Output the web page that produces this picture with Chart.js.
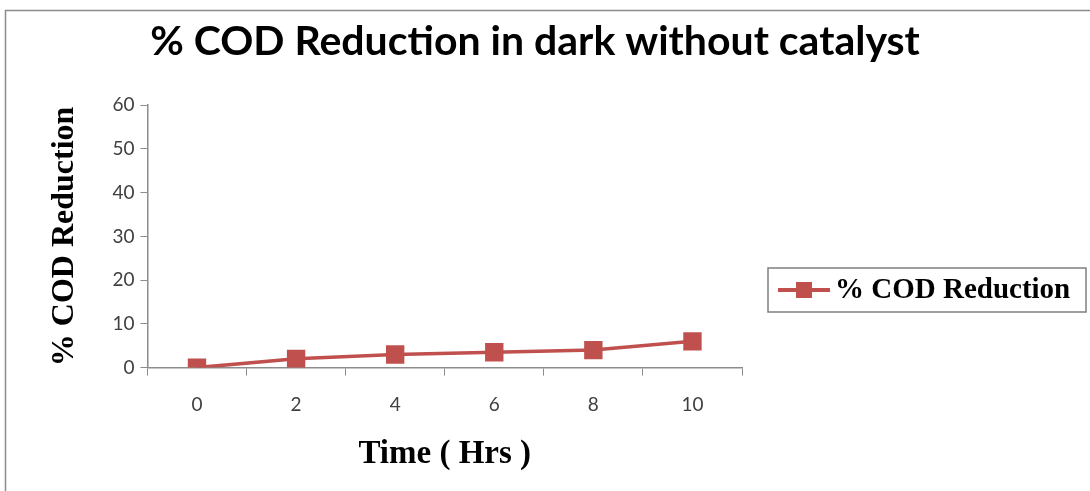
<!DOCTYPE html>
<html>
<head>
<meta charset="utf-8">
<script src="https://cdn.jsdelivr.net/npm/chart.js@4/dist/chart.umd.min.js"></script>
<style>
  html, body { margin: 0; padding: 0; background: #fff; }
  #wrap { width: 1090px; height: 491px; }
</style>
</head>
<body>
<div id="wrap"><canvas id="codChart" width="1090" height="491"></canvas></div>
<script>
// Data
const hours = ['0', '2', '4', '6', '8', '10'];
const codReduction = [0, 2, 3, 3.5, 4, 6];
const yTicks = [0, 10, 20, 30, 40, 50, 60];

const seriesName = '% COD Reduction';
const lineColor = '#C0504D';

// outer frame + legend (built-in legend is squeezed too narrow on the right)
const framePlugin = {
    id: 'frame',
    beforeDraw(chart) {
        const c = chart.ctx;
        c.save();
        c.fillStyle = '#fff';
        c.fillRect(0, 0, chart.width, chart.height);
        c.strokeStyle = '#8c8c8c';
        c.lineWidth = 1.5;
        c.strokeRect(5.5, 10.5, chart.width + 20, chart.height + 20);
        c.restore();
    },
    afterDraw(chart) {
        const c = chart.ctx;
        const ds = chart.data.datasets[0];
        const left = chart.chartArea.right + 26;
        const cy = 290;
        c.save();
        c.strokeStyle = '#7f7f7f';
        c.lineWidth = 1.5;
        c.strokeRect(left, cy - 22, 318, 44);
        // line + square marker
        c.strokeStyle = ds.borderColor;
        c.lineWidth = 4;
        c.beginPath();
        c.moveTo(left + 10, cy);
        c.lineTo(left + 62, cy);
        c.stroke();
        c.fillStyle = ds.borderColor;
        c.fillRect(left + 28, cy - 8, 16, 16);
        c.fillStyle = '#000';
        c.font = 'bold 29px "Liberation Serif"';
        c.textBaseline = 'middle';
        c.fillText(ds.label, left + 67, cy + 1);
        c.restore();
    }
};

const ctx = document.getElementById('codChart').getContext('2d');
const codChart = new Chart(ctx, {
    type: 'line',
    data: {
        labels: hours,
        datasets: [{
            label: seriesName,
            data: codReduction,
            borderColor: lineColor,
            backgroundColor: lineColor,
            borderWidth: 3.5,
            pointStyle: 'rect',
            pointRadius: 13,
            pointBackgroundColor: lineColor,
            pointBorderColor: lineColor,
            pointBorderWidth: 0,
            tension: 0,
            yAxisID: 'y'
        }]
    },
    options: {
        responsive: false,
        animation: false,
        layout: { padding: { left: 0, right: 20, top: 0, bottom: 17 } },
        plugins: {
            title: {
                display: true,
                text: '% COD Reduction in dark without catalyst',
                color: '#000',
                font: { family: 'Lato', size: 41, weight: 'bold' },
                padding: { top: 17, bottom: 39 }
            },
            legend: { display: false },
            tooltip: { enabled: false }
        },
        scales: {
            x: {
                offset: true,
                grid: { display: true, drawOnChartArea: false, drawTicks: true, tickLength: 8, color: '#8c8c8c', offset: true },
                border: { color: '#8c8c8c', width: 1.5 },
                ticks: { color: '#404040', font: { family: 'Lato', size: 19 }, padding: 18 },
                title: {
                    display: true,
                    text: 'Time ( Hrs )',
                    color: '#000',
                    font: { family: 'Liberation Serif', size: 33, weight: 'bold' },
                    padding: { top: 0, bottom: 0 }
                }
            },
            y: {
                min: 0,
                max: 60,
                afterBuildTicks: (axis) => { axis.ticks = yTicks.map(v => ({ value: v })); },
                grid: { display: true, drawOnChartArea: false, drawTicks: true, tickLength: 7, color: '#8c8c8c' },
                border: { color: '#8c8c8c', width: 1.5 },
                ticks: { color: '#404040', font: { family: 'Lato', size: 19 }, padding: 6 },
                title: {
                    display: true,
                    text: '% COD Reduction',
                    color: '#000',
                    font: { family: 'Liberation Serif', size: 32, weight: 'bold' },
                    padding: { top: 46, bottom: 22 }
                }
            },
            // empty right axis, only keeps room for the legend
            yR: {
                position: 'right',
                min: 0,
                max: 1,
                ticks: { display: false },
                grid: { display: false },
                border: { display: false },
                afterFit: (scale) => { scale.width = 328; }
            }
        }
    },
    plugins: [framePlugin]
});
</script>
</body>
</html>
